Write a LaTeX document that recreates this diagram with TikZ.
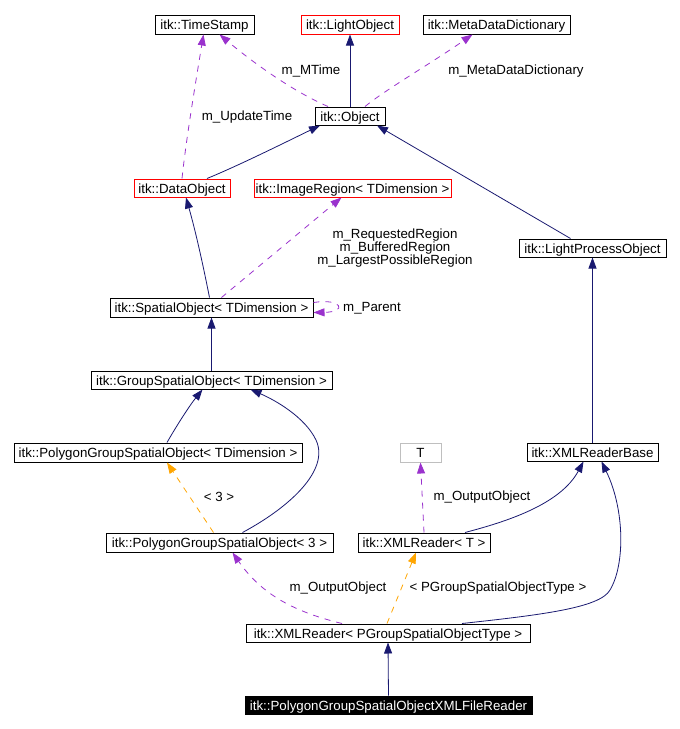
\documentclass[tikz,border=0pt]{standalone}
\usepackage{fontspec}
\setmainfont{Liberation Sans}
\usetikzlibrary{arrows.meta,calc}
\definecolor{navy}{HTML}{191970}
\definecolor{orchid}{HTML}{9A32CD}
\definecolor{orng}{HTML}{FFA500}
\definecolor{grayb}{HTML}{BFBFBF}
\begin{document}
\begin{tikzpicture}[x=1pt,y=-1pt,
  box/.style={draw=black,line width=1pt,inner sep=0pt,minimum height=19pt,text height=11pt,text depth=1pt,font=\fontsize{13.3}{15}\selectfont},
  redbox/.style={box,draw=red},
  lbl/.style={font=\fontsize{13.3}{15}\selectfont,inner sep=0pt,align=center},
  inh/.style={draw=navy,line width=0.8pt,-{Triangle[length=11pt,width=8pt]},color=navy},
  use/.style={draw=orchid,line width=0.8pt,dash pattern=on 6pt off 6pt,-{Triangle[length=11pt,width=8pt]},color=orchid},
  tpl/.style={draw=orng,line width=0.8pt,dash pattern=on 6pt off 6pt,-{Triangle[length=11pt,width=8pt]},color=orng}]
\useasboundingbox (0,0) rectangle (680,729);

\node[box,minimum width=99pt] (ts) at (204.5,24.5) {itk::TimeStamp};
\node[redbox,minimum width=98pt] (lo) at (350,24.5) {itk::LightObject};
\node[box,minimum width=147pt] (md) at (496.5,24.5) {itk::MetaDataDictionary};
\node[box,minimum width=70pt,minimum height=18pt] (obj) at (350,116) {itk::Object};
\node[redbox,minimum width=96pt,minimum height=18pt] (do) at (182,188) {itk::DataObject};
\node[redbox,minimum width=197pt,minimum height=18pt] (ir) at (352.5,188) {itk::ImageRegion< TDimension >};
\node[box,minimum width=147pt,minimum height=18pt] (lpo) at (592.5,248) {itk::LightProcessObject};
\node[box,minimum width=203pt] (so) at (211.5,307.5) {itk::SpatialObject< TDimension >};
\node[box,minimum width=241pt,minimum height=18pt] (gso) at (211.5,380) {itk::GroupSpatialObject< TDimension >};
\node[box,minimum width=288pt] (pgt) at (158,452.5) {itk::PolygonGroupSpatialObject< TDimension >};
\node[box,draw=grayb,minimum width=41pt] (t) at (420.5,452.5) {T};
\node[box,minimum width=131pt,minimum height=18pt] (xrb) at (592.5,452) {itk::XMLReaderBase};
\node[box,minimum width=227pt] (pg3) at (219.5,542.5) {itk::PolygonGroupSpatialObject< 3 >};
\node[box,minimum width=132pt] (xrt) at (424,542.5) {itk::XMLReader< T >};
\node[box,minimum width=284pt,minimum height=18pt] (xrp) at (388,633) {itk::XMLReader< PGroupSpatialObjectType >};
\node[box,fill=black,text=white,minimum width=287pt,minimum height=18pt] (fr) at (388.5,705) {itk::PolygonGroupSpatialObjectXMLFileReader};

% Object level
\draw[inh] (obj.north) -- (lo.south);
\draw[use] ($(obj.north)+(-22,0)$) .. controls (290,90) and (250,60) .. ($(ts.south)+(15,0)$);
\node[lbl] (lmt) at (311,71) {m\_MTime};
\draw[use] ($(obj.north)+(15,0)$) .. controls (385,90) and (430,64) .. ($(md.south)+(-24,0)$);
\node[lbl] (lmd) at (516,71) {m\_MetaDataDictionary};

% DataObject
\draw[inh] ($(do.north)+(25,0)$) .. controls (240,165) and (290,140) .. ($(obj.south)+(-30,0)$);
\draw[use] (do.north) .. controls (186,140) and (196,80) .. ($(ts.south)+(-1,0)$);
\node[lbl] (lut) at (247,117) {m\_UpdateTime};

% LightProcessObject
\draw[inh] ($(lpo.north)+(-22,0)$) -- ($(obj.south)+(27,0)$);

% SpatialObject
\draw[inh] ($(so.north)+(-2,0)$) .. controls (206,280) and (198,240) .. ($(do.south)+(4,0)$);
\draw[use] ($(so.north)+(10,0)$) -- ($(ir.south)+(-11,0)$);
\node[lbl] (lrg) at (395,248) {m\_RequestedRegion\\[-2pt]m\_BufferedRegion\\[-2pt]m\_LargestPossibleRegion};
\coordinate (lpA) at ($(so.east)+(0,-5)$);
\coordinate (lpB) at ($(so.east)+(0,5)$);
\draw[use] (lpA) .. controls (342,298) and (348,312) .. (lpB);
\node[lbl] (lpa) at (372,308) {m\_Parent};

% GroupSpatialObject
\draw[inh] (gso.north) -- (so.south);
\draw[inh] (xrb.north) -- (lpo.south);
\draw[inh] ($(pgt.north)+(9,0)$) .. controls (177,425) and (190,405) .. ($(gso.south)+(-9,0)$);
\draw[inh] ($(pg3.north)+(23,0)$) .. controls (290,507) and (330,470) .. (316,440) .. controls (305,417) and (275,400) .. ($(gso.south)+(39,0)$);
\draw[tpl] ($(pg3.north)+(-6,0)$) -- ($(pgt.south)+(9,0)$);
\node[lbl] (l3) at (219,497) {< 3 >};

% XMLReader<T>
\draw[use] (xrt.north) -- (t.south);
\node[lbl] (lo1) at (482,497) {m\_OutputObject};
\draw[inh] ($(xrt.north)+(41,0)$) .. controls (505,522) and (560,505) .. ($(xrb.south)+(-9,0)$);

% XMLReader<PGroup>
\draw[use] ($(xrp.north)+(-46,0)$) .. controls (295,612) and (262,595) .. ($(pg3.south)+(13,0)$);
\node[lbl] (lo2) at (338,588) {m\_OutputObject};
\draw[tpl] ($(xrp.north)+(-1,0)$) -- ($(xrt.south)+(-8,0)$);
\node[lbl] (lpg) at (498,588) {< PGroupSpatialObjectType >};
\draw[inh] ($(xrp.north)+(74,0)$) .. controls (540,615) and (600,608) .. (610,590) .. controls (625,565) and (625,510) .. ($(xrb.south)+(9,0)$);

\draw[inh] (fr.north) -- (xrp.south);
\end{tikzpicture}
\end{document}
